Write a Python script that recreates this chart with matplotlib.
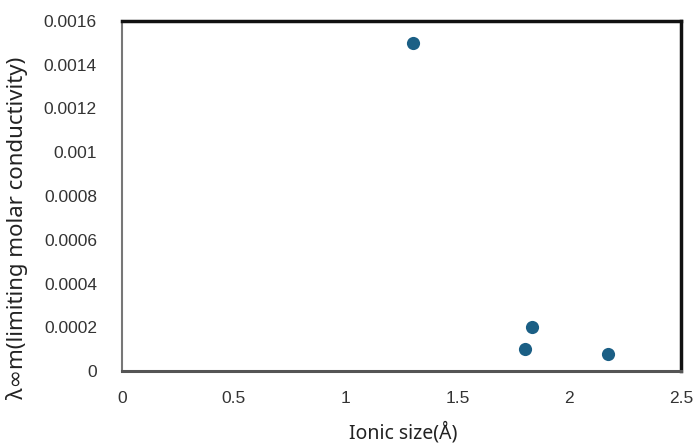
import matplotlib
matplotlib.use("Agg")
import matplotlib.pyplot as plt

# Ionic size (Å) against limiting molar conductivity
ionic_size = [1.30, 1.834, 1.802, 2.173]
limiting_conductivity = [0.0015, 0.0002, 0.0001, 0.00008]

x_ticks = [0, 0.5, 1, 1.5, 2, 2.5]
x_tick_labels = ["0", "0.5", "1", "1.5", "2", "2.5"]
y_ticks = [0, 0.0002, 0.0004, 0.0006, 0.0008, 0.001, 0.0012, 0.0014, 0.0016]
y_tick_labels = ["0", "0.0002", "0.0004", "0.0006", "0.0008", "0.001", "0.0012", "0.0014", "0.0016"]

fig = plt.figure(figsize=(6.95, 4.46), dpi=100)
ax = fig.add_axes([0.1755, 0.168, 0.8045, 0.785])

ax.scatter(ionic_size, limiting_conductivity, s=90, color="#1b5f85", zorder=3, linewidths=0)

ax.set_xlim(0, 2.5)
ax.set_ylim(0, 0.0016)
ax.set_xticks(x_ticks)
ax.set_xticklabels(x_tick_labels, fontfamily="Liberation Sans", fontsize=12.5, color="#333333")
ax.set_yticks(y_ticks)
ax.set_yticklabels(y_tick_labels, fontfamily="Liberation Sans", fontsize=12.5, color="#333333")
ax.tick_params(axis="both", length=0)
ax.tick_params(axis="x", pad=14)
ax.tick_params(axis="y", pad=18)

for side in ("top", "right"):
    ax.spines[side].set_color("#111111")
    ax.spines[side].set_linewidth(2.5)
ax.spines["left"].set_color("#777777")
ax.spines["left"].set_linewidth(1.5)
ax.spines["bottom"].set_color("#555555")
ax.spines["bottom"].set_linewidth(2.2)

ax.set_xlabel("Ionic size(Å)", fontfamily="Noto Sans", fontsize=14, color="#222222")
ax.xaxis.set_label_coords(0.503, -0.146)
ax.set_ylabel("λ∞m(limiting molar conductivity)", fontfamily=["Noto Sans", "DejaVu Sans"],
              fontsize=16, color="#222222")
ax.yaxis.set_label_coords(-0.168, 0.41)

fig.savefig("out.png", dpi=100)
